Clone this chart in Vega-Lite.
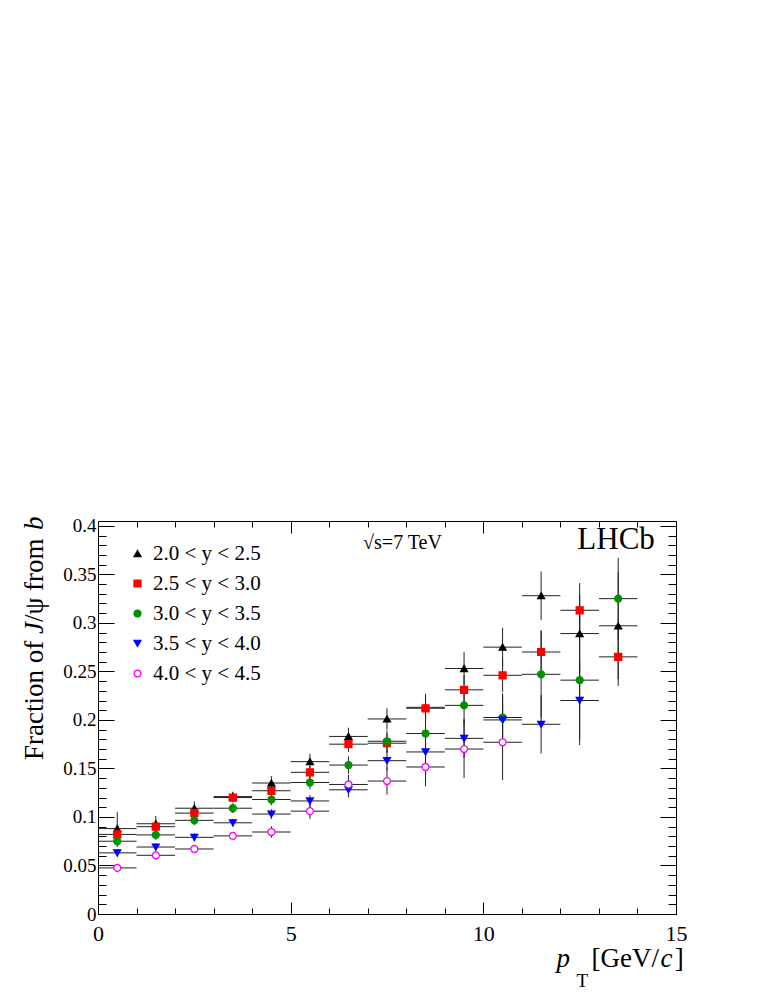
{
  "$schema": "https://vega.github.io/schema/vega-lite/v6.json",
  "description": "Fraction of J/psi from b versus pT in five rapidity bins, LHCb sqrt(s)=7 TeV.",
  "width": 578,
  "height": 393,
  "autosize": {"type": "none"},
  "padding": {"left": 98, "top": 521, "right": 92, "bottom": 80},
  "background": "white",
  "data": {
    "values": [
      {"s": "2.0 < y < 2.5", "pt": 0.5, "lo": 0, "hi": 1, "f": 0.088, "e": 0.017},
      {"s": "2.0 < y < 2.5", "pt": 1.5, "lo": 1, "hi": 2, "f": 0.093, "e": 0.008},
      {"s": "2.0 < y < 2.5", "pt": 2.5, "lo": 2, "hi": 3, "f": 0.109, "e": 0.007},
      {"s": "2.0 < y < 2.5", "pt": 3.5, "lo": 3, "hi": 4, "f": 0.121, "e": 0.005},
      {"s": "2.0 < y < 2.5", "pt": 4.5, "lo": 4, "hi": 5, "f": 0.135, "e": 0.007},
      {"s": "2.0 < y < 2.5", "pt": 5.5, "lo": 5, "hi": 6, "f": 0.157, "e": 0.008},
      {"s": "2.0 < y < 2.5", "pt": 6.5, "lo": 6, "hi": 7, "f": 0.183, "e": 0.009},
      {"s": "2.0 < y < 2.5", "pt": 7.5, "lo": 7, "hi": 8, "f": 0.201, "e": 0.011},
      {"s": "2.0 < y < 2.5", "pt": 8.5, "lo": 8, "hi": 9, "f": 0.213, "e": 0.014},
      {"s": "2.0 < y < 2.5", "pt": 9.5, "lo": 9, "hi": 10, "f": 0.253, "e": 0.017},
      {"s": "2.0 < y < 2.5", "pt": 10.5, "lo": 10, "hi": 11, "f": 0.275, "e": 0.020},
      {"s": "2.0 < y < 2.5", "pt": 11.5, "lo": 11, "hi": 12, "f": 0.328, "e": 0.025},
      {"s": "2.0 < y < 2.5", "pt": 12.5, "lo": 12, "hi": 13, "f": 0.289, "e": 0.040},
      {"s": "2.0 < y < 2.5", "pt": 13.5, "lo": 13, "hi": 14, "f": 0.297, "e": 0.055},
      {"s": "2.5 < y < 3.0", "pt": 0.5, "lo": 0, "hi": 1, "f": 0.082, "e": 0.006},
      {"s": "2.5 < y < 3.0", "pt": 1.5, "lo": 1, "hi": 2, "f": 0.090, "e": 0.006},
      {"s": "2.5 < y < 3.0", "pt": 2.5, "lo": 2, "hi": 3, "f": 0.104, "e": 0.006},
      {"s": "2.5 < y < 3.0", "pt": 3.5, "lo": 3, "hi": 4, "f": 0.120, "e": 0.005},
      {"s": "2.5 < y < 3.0", "pt": 4.5, "lo": 4, "hi": 5, "f": 0.127, "e": 0.006},
      {"s": "2.5 < y < 3.0", "pt": 5.5, "lo": 5, "hi": 6, "f": 0.146, "e": 0.007},
      {"s": "2.5 < y < 3.0", "pt": 6.5, "lo": 6, "hi": 7, "f": 0.175, "e": 0.008},
      {"s": "2.5 < y < 3.0", "pt": 7.5, "lo": 7, "hi": 8, "f": 0.176, "e": 0.010},
      {"s": "2.5 < y < 3.0", "pt": 8.5, "lo": 8, "hi": 9, "f": 0.212, "e": 0.012},
      {"s": "2.5 < y < 3.0", "pt": 9.5, "lo": 9, "hi": 10, "f": 0.231, "e": 0.015},
      {"s": "2.5 < y < 3.0", "pt": 10.5, "lo": 10, "hi": 11, "f": 0.246, "e": 0.017},
      {"s": "2.5 < y < 3.0", "pt": 11.5, "lo": 11, "hi": 12, "f": 0.270, "e": 0.022},
      {"s": "2.5 < y < 3.0", "pt": 12.5, "lo": 12, "hi": 13, "f": 0.313, "e": 0.028},
      {"s": "2.5 < y < 3.0", "pt": 13.5, "lo": 13, "hi": 14, "f": 0.265, "e": 0.030},
      {"s": "3.0 < y < 3.5", "pt": 0.5, "lo": 0, "hi": 1, "f": 0.075, "e": 0.006},
      {"s": "3.0 < y < 3.5", "pt": 1.5, "lo": 1, "hi": 2, "f": 0.0815, "e": 0.005},
      {"s": "3.0 < y < 3.5", "pt": 2.5, "lo": 2, "hi": 3, "f": 0.0965, "e": 0.005},
      {"s": "3.0 < y < 3.5", "pt": 3.5, "lo": 3, "hi": 4, "f": 0.109, "e": 0.005},
      {"s": "3.0 < y < 3.5", "pt": 4.5, "lo": 4, "hi": 5, "f": 0.118, "e": 0.006},
      {"s": "3.0 < y < 3.5", "pt": 5.5, "lo": 5, "hi": 6, "f": 0.1355, "e": 0.007},
      {"s": "3.0 < y < 3.5", "pt": 6.5, "lo": 6, "hi": 7, "f": 0.1535, "e": 0.009},
      {"s": "3.0 < y < 3.5", "pt": 7.5, "lo": 7, "hi": 8, "f": 0.178, "e": 0.011},
      {"s": "3.0 < y < 3.5", "pt": 8.5, "lo": 8, "hi": 9, "f": 0.186, "e": 0.014},
      {"s": "3.0 < y < 3.5", "pt": 9.5, "lo": 9, "hi": 10, "f": 0.215, "e": 0.020},
      {"s": "3.0 < y < 3.5", "pt": 10.5, "lo": 10, "hi": 11, "f": 0.2025, "e": 0.025},
      {"s": "3.0 < y < 3.5", "pt": 11.5, "lo": 11, "hi": 12, "f": 0.247, "e": 0.045},
      {"s": "3.0 < y < 3.5", "pt": 12.5, "lo": 12, "hi": 13, "f": 0.241, "e": 0.067},
      {"s": "3.0 < y < 3.5", "pt": 13.5, "lo": 13, "hi": 14, "f": 0.325, "e": 0.042},
      {"s": "3.5 < y < 4.0", "pt": 0.5, "lo": 0, "hi": 1, "f": 0.063, "e": 0.004},
      {"s": "3.5 < y < 4.0", "pt": 1.5, "lo": 1, "hi": 2, "f": 0.069, "e": 0.004},
      {"s": "3.5 < y < 4.0", "pt": 2.5, "lo": 2, "hi": 3, "f": 0.079, "e": 0.004},
      {"s": "3.5 < y < 4.0", "pt": 3.5, "lo": 3, "hi": 4, "f": 0.094, "e": 0.004},
      {"s": "3.5 < y < 4.0", "pt": 4.5, "lo": 4, "hi": 5, "f": 0.103, "e": 0.005},
      {"s": "3.5 < y < 4.0", "pt": 5.5, "lo": 5, "hi": 6, "f": 0.1165, "e": 0.006},
      {"s": "3.5 < y < 4.0", "pt": 6.5, "lo": 6, "hi": 7, "f": 0.128, "e": 0.008},
      {"s": "3.5 < y < 4.0", "pt": 7.5, "lo": 7, "hi": 8, "f": 0.158, "e": 0.010},
      {"s": "3.5 < y < 4.0", "pt": 8.5, "lo": 8, "hi": 9, "f": 0.167, "e": 0.012},
      {"s": "3.5 < y < 4.0", "pt": 9.5, "lo": 9, "hi": 10, "f": 0.181, "e": 0.020},
      {"s": "3.5 < y < 4.0", "pt": 10.5, "lo": 10, "hi": 11, "f": 0.200, "e": 0.025},
      {"s": "3.5 < y < 4.0", "pt": 11.5, "lo": 11, "hi": 12, "f": 0.1955, "e": 0.030},
      {"s": "3.5 < y < 4.0", "pt": 12.5, "lo": 12, "hi": 13, "f": 0.220, "e": 0.040},
      {"s": "4.0 < y < 4.5", "pt": 0.5, "lo": 0, "hi": 1, "f": 0.0475, "e": 0.003},
      {"s": "4.0 < y < 4.5", "pt": 1.5, "lo": 1, "hi": 2, "f": 0.0605, "e": 0.004},
      {"s": "4.0 < y < 4.5", "pt": 2.5, "lo": 2, "hi": 3, "f": 0.067, "e": 0.004},
      {"s": "4.0 < y < 4.5", "pt": 3.5, "lo": 3, "hi": 4, "f": 0.0805, "e": 0.004},
      {"s": "4.0 < y < 4.5", "pt": 4.5, "lo": 4, "hi": 5, "f": 0.0845, "e": 0.006},
      {"s": "4.0 < y < 4.5", "pt": 5.5, "lo": 5, "hi": 6, "f": 0.106, "e": 0.008},
      {"s": "4.0 < y < 4.5", "pt": 6.5, "lo": 6, "hi": 7, "f": 0.1335, "e": 0.010},
      {"s": "4.0 < y < 4.5", "pt": 7.5, "lo": 7, "hi": 8, "f": 0.137, "e": 0.014},
      {"s": "4.0 < y < 4.5", "pt": 8.5, "lo": 8, "hi": 9, "f": 0.1515, "e": 0.020},
      {"s": "4.0 < y < 4.5", "pt": 9.5, "lo": 9, "hi": 10, "f": 0.170, "e": 0.030},
      {"s": "4.0 < y < 4.5", "pt": 10.5, "lo": 10, "hi": 11, "f": 0.177, "e": 0.039}
    ]
  },
  "layer": [
    {
      "mark": {"type": "rule", "color": "#222", "strokeWidth": 1},
      "encoding": {
        "x": {
          "field": "lo", "type": "quantitative",
          "scale": {"domain": [0, 15], "nice": false, "zero": false},
          "axis": {
            "orient": "bottom", "title": null, "domain": false, "grid": false,
            "values": [0, 1, 2, 3, 4, 5, 6, 7, 8, 9, 10, 11, 12, 13, 14, 15],
            "format": "~g",
            "labelExpr": "datum.value % 5 === 0 ? datum.label : ''",
            "tickSize": {"condition": {"test": "datum.value % 5 === 0", "value": -12}, "value": -6},
            "tickColor": "black", "labelColor": "black",
            "labelFont": "Liberation Serif", "labelFontSize": 22, "labelPadding": 21,
            "labelFlush": false
          }
        },
        "x2": {"field": "hi"},
        "y": {
          "field": "f", "type": "quantitative",
          "scale": {"domain": [0, 0.405], "nice": false, "zero": false},
          "axis": {
            "orient": "left", "title": null, "domain": false, "grid": false,
            "values": [0, 0.01, 0.02, 0.03, 0.04, 0.05, 0.06, 0.07, 0.08, 0.09, 0.1, 0.11, 0.12, 0.13, 0.14, 0.15, 0.16, 0.17, 0.18, 0.19, 0.2, 0.21, 0.22, 0.23, 0.24, 0.25, 0.26, 0.27, 0.28, 0.29, 0.3, 0.31, 0.32, 0.33, 0.34, 0.35, 0.36, 0.37, 0.38, 0.39, 0.4],
            "format": "~g",
            "labelExpr": "round(datum.value * 100) % 5 === 0 ? datum.label : ''",
            "tickSize": {"condition": {"test": "round(datum.value * 100) % 5 === 0", "value": -16}, "value": -8},
            "tickColor": "black", "labelColor": "black",
            "labelFont": "Liberation Serif", "labelFontSize": 19, "labelPadding": 18,
            "labelFlush": false
          }
        }
      }
    },
    {
      "mark": {"type": "errorbar", "ticks": false, "color": "#222", "thickness": 1},
      "encoding": {
        "x": {
          "field": "pt", "type": "quantitative",
          "scale": {"domain": [0, 15], "nice": false, "zero": false},
          "axis": {
            "orient": "top", "title": null, "domain": false, "grid": false, "labels": false,
            "values": [0, 1, 2, 3, 4, 5, 6, 7, 8, 9, 10, 11, 12, 13, 14, 15],
            "tickSize": {"condition": {"test": "datum.value % 5 === 0", "value": -12}, "value": -6},
            "tickColor": "black"
          }
        },
        "y": {
          "field": "f", "type": "quantitative",
          "scale": {"domain": [0, 0.405], "nice": false, "zero": false},
          "axis": {
            "orient": "right", "title": null, "domain": false, "grid": false, "labels": false,
            "values": [0, 0.01, 0.02, 0.03, 0.04, 0.05, 0.06, 0.07, 0.08, 0.09, 0.1, 0.11, 0.12, 0.13, 0.14, 0.15, 0.16, 0.17, 0.18, 0.19, 0.2, 0.21, 0.22, 0.23, 0.24, 0.25, 0.26, 0.27, 0.28, 0.29, 0.3, 0.31, 0.32, 0.33, 0.34, 0.35, 0.36, 0.37, 0.38, 0.39, 0.4],
            "tickSize": {"condition": {"test": "round(datum.value * 100) % 5 === 0", "value": -16}, "value": -8},
            "tickColor": "black"
          }
        },
        "yError": {"field": "e"}
      }
    },
    {
      "mark": {"type": "point", "filled": true, "size": 48, "strokeWidth": 1.3, "opacity": 1},
      "encoding": {
        "x": {"field": "pt", "type": "quantitative", "scale": {"domain": [0, 15], "nice": false, "zero": false}, "axis": null},
        "y": {"field": "f", "type": "quantitative", "scale": {"domain": [0, 0.405], "nice": false, "zero": false}, "axis": null},
        "shape": {
          "field": "s", "type": "nominal",
          "scale": {
            "domain": ["2.0 < y < 2.5", "2.5 < y < 3.0", "3.0 < y < 3.5", "3.5 < y < 4.0", "4.0 < y < 4.5"],
            "range": ["triangle-up", "square", "circle", "triangle-down", "circle"]
          },
          "legend": {"orient": "none", "legendX": 29, "legendY": 22, "title": null, "padding": 0, "labelFont": "Liberation Serif", "labelFontSize": 21, "labelColor": "black", "symbolSize": 48, "symbolStrokeWidth": 1.3, "rowPadding": 8, "labelOffset": 5}
        },
        "fill": {
          "field": "s", "type": "nominal",
          "scale": {
            "domain": ["2.0 < y < 2.5", "2.5 < y < 3.0", "3.0 < y < 3.5", "3.5 < y < 4.0", "4.0 < y < 4.5"],
            "range": ["#000000", "#ff0000", "#009100", "#0000ff", "#ffffff"]
          },
          "legend": {"orient": "none", "legendX": 29, "legendY": 22, "title": null, "padding": 0, "labelFont": "Liberation Serif", "labelFontSize": 21, "labelColor": "black", "symbolSize": 48, "symbolStrokeWidth": 1.3, "rowPadding": 8, "labelOffset": 5}
        },
        "stroke": {
          "field": "s", "type": "nominal",
          "scale": {
            "domain": ["2.0 < y < 2.5", "2.5 < y < 3.0", "3.0 < y < 3.5", "3.5 < y < 4.0", "4.0 < y < 4.5"],
            "range": ["#000000", "#ff0000", "#009100", "#0000ff", "#ff00ff"]
          },
          "legend": {"orient": "none", "legendX": 29, "legendY": 22, "title": null, "padding": 0, "labelFont": "Liberation Serif", "labelFontSize": 21, "labelColor": "black", "symbolSize": 48, "symbolStrokeWidth": 1.3, "rowPadding": 8, "labelOffset": 5}
        }
      }
    },
    {
      "data": {"values": [{}]},
      "mark": {"type": "text", "text": "LHCb", "font": "Liberation Serif", "fontSize": 31, "align": "right", "baseline": "alphabetic", "color": "black"},
      "encoding": {
        "x": {"datum": 14.45, "type": "quantitative", "scale": {"domain": [0, 15], "nice": false, "zero": false}, "axis": null},
        "y": {"datum": 0.376, "type": "quantitative", "scale": {"domain": [0, 0.405], "nice": false, "zero": false}, "axis": null}
      }
    },
    {
      "data": {"values": [{}]},
      "mark": {"type": "text", "text": "√s=7 TeV", "font": "Liberation Serif", "fontSize": 20, "align": "left", "baseline": "alphabetic", "color": "black"},
      "encoding": {
        "x": {"datum": 6.88, "type": "quantitative", "scale": {"domain": [0, 15], "nice": false, "zero": false}, "axis": null},
        "y": {"datum": 0.3757, "type": "quantitative", "scale": {"domain": [0, 0.405], "nice": false, "zero": false}, "axis": null}
      }
    },
    {
      "data": {"values": [{}]},
      "mark": {"type": "text", "text": "p", "font": "Liberation Serif", "fontStyle": "italic", "fontSize": 27, "align": "left", "baseline": "alphabetic", "color": "black"},
      "encoding": {
        "x": {"datum": 11.898, "type": "quantitative", "scale": {"domain": [0, 15], "nice": false, "zero": false}, "axis": null},
        "y": {"datum": -0.0548, "type": "quantitative", "scale": {"domain": [0, 0.405], "nice": false, "zero": false}, "axis": null}
      }
    },
    {
      "data": {"values": [{}]},
      "mark": {"type": "text", "text": "T", "font": "Liberation Serif", "fontSize": 19, "align": "left", "baseline": "alphabetic", "color": "black"},
      "encoding": {
        "x": {"datum": 12.417, "type": "quantitative", "scale": {"domain": [0, 15], "nice": false, "zero": false}, "axis": null},
        "y": {"datum": -0.0755, "type": "quantitative", "scale": {"domain": [0, 0.405], "nice": false, "zero": false}, "axis": null}
      }
    },
    {
      "data": {"values": [{}]},
      "mark": {"type": "text", "text": "[GeV/", "font": "Liberation Serif", "fontSize": 27, "align": "left", "baseline": "alphabetic", "color": "black"},
      "encoding": {
        "x": {"datum": 12.806, "type": "quantitative", "scale": {"domain": [0, 15], "nice": false, "zero": false}, "axis": null},
        "y": {"datum": -0.0548, "type": "quantitative", "scale": {"domain": [0, 0.405], "nice": false, "zero": false}, "axis": null}
      }
    },
    {
      "data": {"values": [{}]},
      "mark": {"type": "text", "text": "c", "font": "Liberation Serif", "fontStyle": "italic", "fontSize": 27, "align": "left", "baseline": "alphabetic", "color": "black"},
      "encoding": {
        "x": {"datum": 14.6, "type": "quantitative", "scale": {"domain": [0, 15], "nice": false, "zero": false}, "axis": null},
        "y": {"datum": -0.0548, "type": "quantitative", "scale": {"domain": [0, 0.405], "nice": false, "zero": false}, "axis": null}
      }
    },
    {
      "data": {"values": [{}]},
      "mark": {"type": "text", "text": "]", "font": "Liberation Serif", "fontSize": 27, "align": "left", "baseline": "alphabetic", "color": "black"},
      "encoding": {
        "x": {"datum": 14.97, "type": "quantitative", "scale": {"domain": [0, 15], "nice": false, "zero": false}, "axis": null},
        "y": {"datum": -0.0548, "type": "quantitative", "scale": {"domain": [0, 0.405], "nice": false, "zero": false}, "axis": null}
      }
    },
    {
      "data": {"values": [{}]},
      "mark": {"type": "text", "text": "Fraction of", "font": "Liberation Serif", "fontSize": 27, "angle": 270, "align": "left", "baseline": "alphabetic", "color": "black"},
      "encoding": {
        "x": {"datum": -1.427, "type": "quantitative", "scale": {"domain": [0, 15], "nice": false, "zero": false}, "axis": null},
        "y": {"datum": 0.1586, "type": "quantitative", "scale": {"domain": [0, 0.405], "nice": false, "zero": false}, "axis": null}
      }
    },
    {
      "data": {"values": [{}]},
      "mark": {"type": "text", "text": "J", "font": "Liberation Serif", "fontStyle": "italic", "fontSize": 27, "angle": 270, "align": "left", "baseline": "alphabetic", "color": "black"},
      "encoding": {
        "x": {"datum": -1.427, "type": "quantitative", "scale": {"domain": [0, 15], "nice": false, "zero": false}, "axis": null},
        "y": {"datum": 0.2885, "type": "quantitative", "scale": {"domain": [0, 0.405], "nice": false, "zero": false}, "axis": null}
      }
    },
    {
      "data": {"values": [{}]},
      "mark": {"type": "text", "text": "/ψ from", "font": "Liberation Serif", "fontSize": 27, "angle": 270, "align": "left", "baseline": "alphabetic", "color": "black"},
      "encoding": {
        "x": {"datum": -1.427, "type": "quantitative", "scale": {"domain": [0, 15], "nice": false, "zero": false}, "axis": null},
        "y": {"datum": 0.3008, "type": "quantitative", "scale": {"domain": [0, 0.405], "nice": false, "zero": false}, "axis": null}
      }
    },
    {
      "data": {"values": [{}]},
      "mark": {"type": "text", "text": "b", "font": "Liberation Serif", "fontStyle": "italic", "fontSize": 27, "angle": 270, "align": "left", "baseline": "alphabetic", "color": "black"},
      "encoding": {
        "x": {"datum": -1.427, "type": "quantitative", "scale": {"domain": [0, 15], "nice": false, "zero": false}, "axis": null},
        "y": {"datum": 0.3957, "type": "quantitative", "scale": {"domain": [0, 0.405], "nice": false, "zero": false}, "axis": null}
      }
    }
  ],
  "resolve": {"axis": {"x": "independent", "y": "independent"}},
  "config": {
    "view": {"stroke": "black", "strokeWidth": 1},
    "font": "Liberation Serif"
  }
}
